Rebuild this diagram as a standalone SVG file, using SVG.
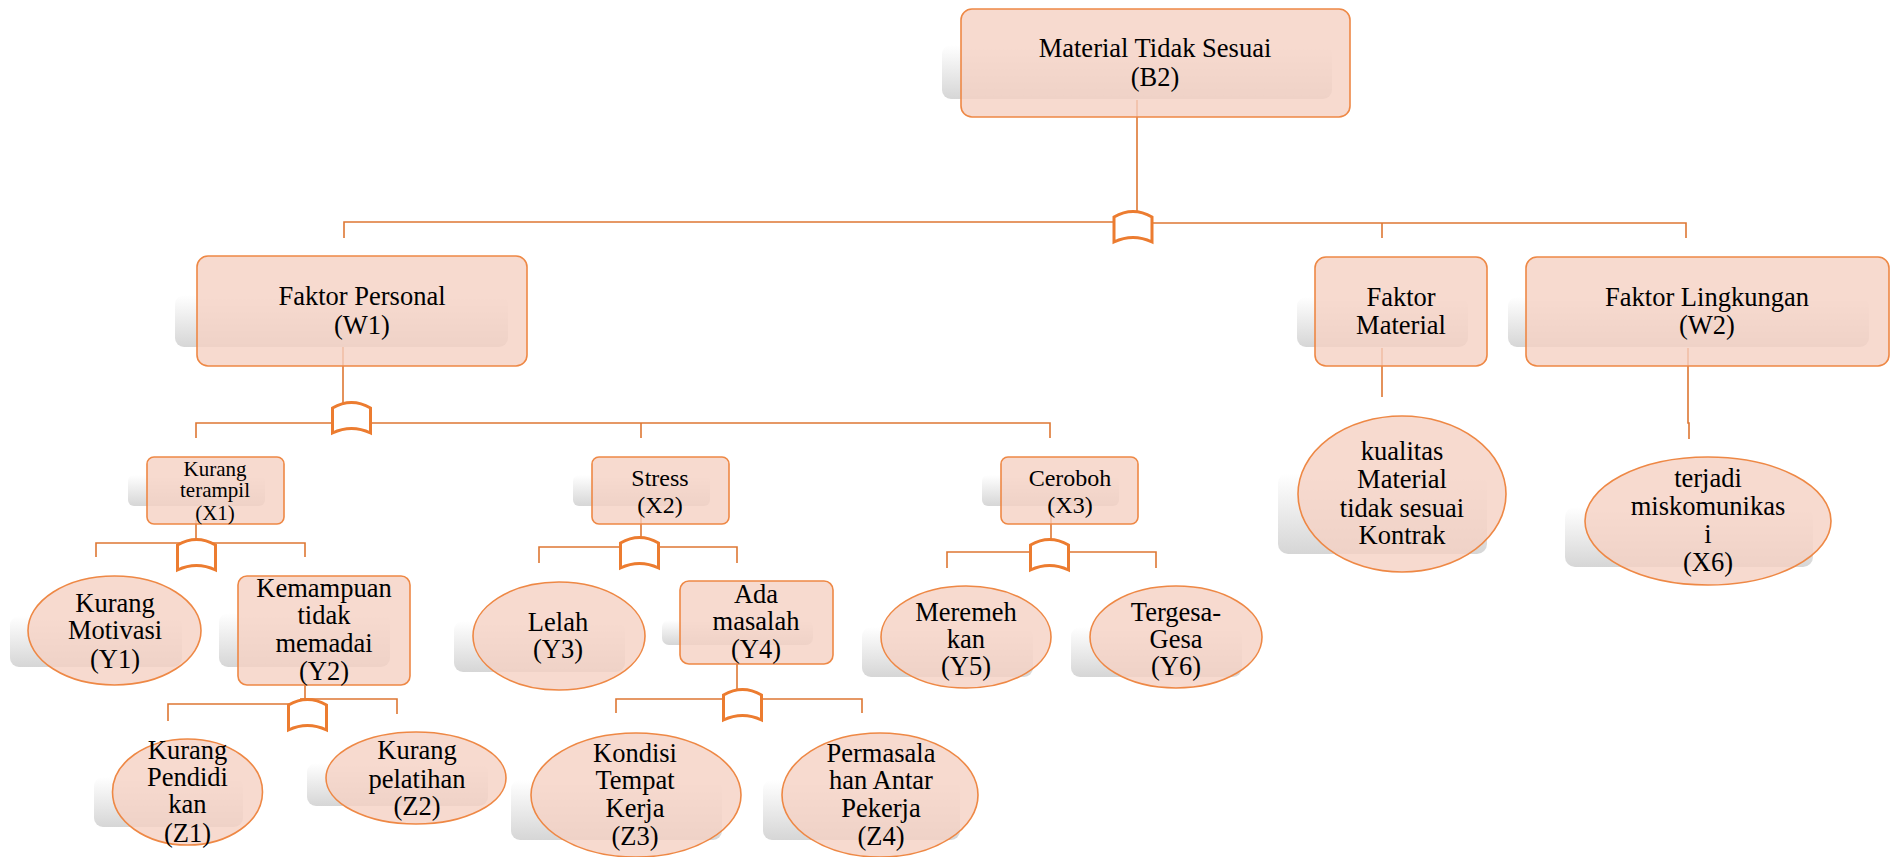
<svg xmlns="http://www.w3.org/2000/svg" width="1897" height="857" viewBox="0 0 1897 857">
  <defs>
    <linearGradient id="shade" x1="0" y1="0" x2="0" y2="1">
      <stop offset="0" stop-color="#ffffff"/>
      <stop offset="1" stop-color="#d6d6d6"/>
    </linearGradient>
    <!-- gate symbol: origin at top centre -->
    <path id="gate" d="M-19,31 V6 Q0,-5 19,6 V31 Q0,22 -19,31 Z"/>
    <style>
      .bg{fill:#ffffff}
      .shadow{fill:url(#shade)}
      .node{fill:#F5D1C3;fill-opacity:0.8;stroke:#EE8845;stroke-width:1.6}
      .wire{fill:none;stroke:#DE7733;stroke-width:1.6}
      .gate{fill:#ffffff;stroke:#EC7C30;stroke-width:3}
      text{font-family:"Liberation Serif","Times New Roman",serif;fill:#000000;text-anchor:middle}
      .t1{font-size:26.5px}
      .t2{font-size:24px}
      .t3{font-size:21px}
    </style>
  </defs>
  <rect class="bg" x="0" y="0" width="1897" height="857"/>

  <g id="connectors">
    <!-- level 0 -> level 1 -->
    <path class="wire" d="M1137,100 V212"/>
    <path class="wire" d="M344,238 V222 H1137"/>
    <path class="wire" d="M1137,223 H1686 V238"/>
    <path class="wire" d="M1382,223 V238"/>
    <use href="#gate" class="gate" x="1133" y="211"/>
    <!-- Faktor Personal -->
    <path class="wire" d="M343,347 V403"/>
    <path class="wire" d="M196,438 V423 H1050 V438"/>
    <path class="wire" d="M641,423 V438"/>
    <use href="#gate" class="gate" x="351.5" y="402"/>
    <!-- Faktor Material / Lingkungan -->
    <path class="wire" d="M1382,348 V397"/>
    <path class="wire" d="M1688,348 V423 H1689 V439"/>
    <!-- X1 -->
    <path class="wire" d="M196,520 V540"/>
    <path class="wire" d="M96,557 V543 H305 V557"/>
    <use href="#gate" class="gate" x="196.5" y="539"/>
    <!-- X2 -->
    <path class="wire" d="M641,513 V538"/>
    <path class="wire" d="M539,563 V547 H737 V563"/>
    <use href="#gate" class="gate" x="639.5" y="537"/>
    <!-- X3 -->
    <path class="wire" d="M1051,513 V540"/>
    <path class="wire" d="M947,568 V552 H1156 V568"/>
    <use href="#gate" class="gate" x="1049.5" y="539"/>
    <!-- Y2 -->
    <path class="wire" d="M305,680 V700"/>
    <path class="wire" d="M168,721 V704 H300"/>
    <path class="wire" d="M300,699 H397 V714"/>
    <use href="#gate" class="gate" x="307.5" y="699"/>
    <!-- Y4 -->
    <path class="wire" d="M737,658 V690"/>
    <path class="wire" d="M616,713 V699 H862 V713"/>
    <use href="#gate" class="gate" x="742.5" y="689"/>
  </g>

  <g id="B2">
    <rect class="shadow" x="942" y="45" width="390" height="54" rx="9"/>
    <rect class="node" x="961" y="9" width="389" height="108" rx="11"/>
    <text class="t1" x="1155" y="57">Material Tidak Sesuai</text>
    <text class="t1" x="1155" y="86">(B2)</text>
  </g>

  <g id="W1">
    <rect class="shadow" x="175" y="295" width="333" height="52" rx="9"/>
    <rect class="node" x="197" y="256" width="330" height="110" rx="11"/>
    <text class="t1" x="362" y="305">Faktor Personal</text>
    <text class="t1" x="362" y="334">(W1)</text>
  </g>

  <g id="FM">
    <rect class="shadow" x="1297" y="297" width="171" height="50" rx="9"/>
    <rect class="node" x="1315" y="257" width="172" height="109" rx="11"/>
    <text class="t1" x="1401" y="306">Faktor</text>
    <text class="t1" x="1401" y="334">Material</text>
  </g>

  <g id="W2">
    <rect class="shadow" x="1508" y="297" width="361" height="50" rx="9"/>
    <rect class="node" x="1526" y="257" width="363" height="109" rx="11"/>
    <text class="t1" x="1707" y="306">Faktor Lingkungan</text>
    <text class="t1" x="1707" y="334">(W2)</text>
  </g>

  <g id="X5">
    <rect class="shadow" x="1278" y="473" width="209" height="81" rx="10"/>
    <ellipse class="node" cx="1402" cy="494" rx="104" ry="78"/>
    <text class="t1" x="1402" y="460">kualitas</text>
    <text class="t1" x="1402" y="488">Material</text>
    <text class="t1" x="1402" y="517">tidak sesuai</text>
    <text class="t1" x="1402" y="544">Kontrak</text>
  </g>

  <g id="X6">
    <rect class="shadow" x="1565" y="507" width="248" height="60" rx="10"/>
    <ellipse class="node" cx="1708" cy="521" rx="123" ry="64"/>
    <text class="t1" x="1708" y="487">terjadi</text>
    <text class="t1" x="1708" y="515">miskomunikas</text>
    <text class="t1" x="1708" y="543">i</text>
    <text class="t1" x="1708" y="571">(X6)</text>
  </g>

  <g id="X1">
    <rect class="shadow" x="128" y="475" width="137" height="31" rx="6"/>
    <rect class="node" x="147" y="457" width="137" height="67" rx="7"/>
    <text class="t3" x="215" y="476">Kurang</text>
    <text class="t3" x="215" y="497">terampil</text>
    <text class="t3" x="215" y="520">(X1)</text>
  </g>

  <g id="X2">
    <rect class="shadow" x="573" y="475" width="137" height="31" rx="6"/>
    <rect class="node" x="592" y="457" width="137" height="67" rx="7"/>
    <text class="t2" x="660" y="486">Stress</text>
    <text class="t2" x="660" y="513">(X2)</text>
  </g>

  <g id="X3">
    <rect class="shadow" x="982" y="475" width="137" height="31" rx="6"/>
    <rect class="node" x="1001" y="457" width="137" height="67" rx="7"/>
    <text class="t2" x="1070" y="486">Ceroboh</text>
    <text class="t2" x="1070" y="513">(X3)</text>
  </g>

  <g id="Y1">
    <rect class="shadow" x="10" y="616" width="172" height="51" rx="9"/>
    <ellipse class="node" cx="114.5" cy="630.5" rx="86.5" ry="54.5"/>
    <text class="t1" x="115" y="612">Kurang</text>
    <text class="t1" x="115" y="639">Motivasi</text>
    <text class="t1" x="115" y="668">(Y1)</text>
  </g>

  <g id="Y2">
    <rect class="shadow" x="219" y="613" width="171" height="54" rx="9"/>
    <rect class="node" x="238" y="576" width="172" height="109" rx="9"/>
    <text class="t1" x="324" y="597">Kemampuan</text>
    <text class="t1" x="324" y="624">tidak</text>
    <text class="t1" x="324" y="652">memadai</text>
    <text class="t1" x="324" y="680">(Y2)</text>
  </g>

  <g id="Y3">
    <rect class="shadow" x="454" y="621" width="171" height="51" rx="9"/>
    <ellipse class="node" cx="559" cy="636" rx="86" ry="54"/>
    <text class="t1" x="558" y="631">Lelah</text>
    <text class="t1" x="558" y="658">(Y3)</text>
  </g>

  <g id="Y4">
    <rect class="shadow" x="662" y="620" width="151" height="25" rx="7"/>
    <rect class="node" x="680" y="581" width="153" height="83" rx="9"/>
    <text class="t1" x="756" y="603">Ada</text>
    <text class="t1" x="756" y="630">masalah</text>
    <text class="t1" x="756" y="658">(Y4)</text>
  </g>

  <g id="Y5">
    <rect class="shadow" x="862" y="627" width="171" height="50" rx="9"/>
    <ellipse class="node" cx="966" cy="637" rx="85" ry="51"/>
    <text class="t1" x="966" y="621">Meremeh</text>
    <text class="t1" x="966" y="648">kan</text>
    <text class="t1" x="966" y="675">(Y5)</text>
  </g>

  <g id="Y6">
    <rect class="shadow" x="1071" y="627" width="171" height="50" rx="9"/>
    <ellipse class="node" cx="1176" cy="637" rx="86" ry="51"/>
    <text class="t1" x="1176" y="621">Tergesa-</text>
    <text class="t1" x="1176" y="648">Gesa</text>
    <text class="t1" x="1176" y="675">(Y6)</text>
  </g>

  <g id="Z1">
    <rect class="shadow" x="94" y="777" width="149" height="50" rx="9"/>
    <ellipse class="node" cx="187.5" cy="792" rx="75" ry="53"/>
    <text class="t1" x="187.5" y="759">Kurang</text>
    <text class="t1" x="187.5" y="786">Pendidi</text>
    <text class="t1" x="187.5" y="813">kan</text>
    <text class="t1" x="187.5" y="842">(Z1)</text>
  </g>

  <g id="Z2">
    <rect class="shadow" x="307" y="763" width="181" height="43" rx="9"/>
    <ellipse class="node" cx="416" cy="778" rx="90" ry="46"/>
    <text class="t1" x="417" y="759">Kurang</text>
    <text class="t1" x="417" y="788">pelatihan</text>
    <text class="t1" x="417" y="815">(Z2)</text>
  </g>

  <g id="Z3">
    <rect class="shadow" x="511" y="780" width="211" height="60" rx="9"/>
    <ellipse class="node" cx="636" cy="795" rx="105" ry="62"/>
    <text class="t1" x="635" y="762">Kondisi</text>
    <text class="t1" x="635" y="789">Tempat</text>
    <text class="t1" x="635" y="817">Kerja</text>
    <text class="t1" x="635" y="845">(Z3)</text>
  </g>

  <g id="Z4">
    <rect class="shadow" x="763" y="780" width="197" height="60" rx="9"/>
    <ellipse class="node" cx="880" cy="795" rx="98" ry="62"/>
    <text class="t1" x="881" y="762">Permasala</text>
    <text class="t1" x="881" y="789">han Antar</text>
    <text class="t1" x="881" y="817">Pekerja</text>
    <text class="t1" x="881" y="845">(Z4)</text>
  </g>
</svg>
